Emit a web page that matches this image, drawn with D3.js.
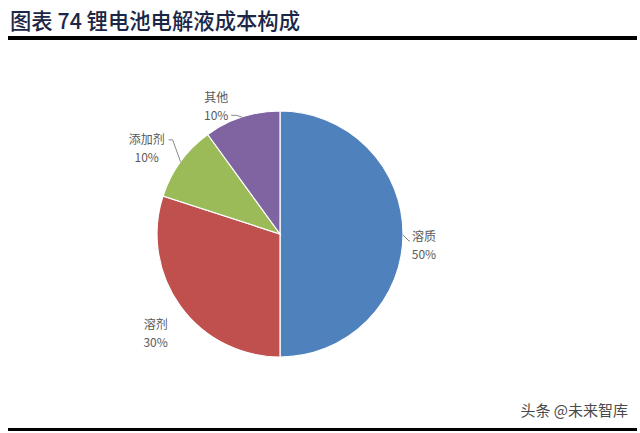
<!DOCTYPE html>
<html><head><meta charset="utf-8">
<script src="https://cdn.jsdelivr.net/npm/d3@7/dist/d3.min.js"></script>
<style>
html,body{margin:0;padding:0;background:#fff;}
svg{display:block;}
</style></head>
<body>
<svg id="c" width="640" height="433"></svg>
<script>
const categories = ["溶质", "溶剂", "添加剂", "其他"];
const values = [50, 30, 10, 10];
const percentLabels = ["50%", "30%", "10%", "10%"];
const colors = ["#4F81BD", "#C0504D", "#9BBB59", "#8064A2"];
const titleText = "图表 74 锂电池电解液成本构成";
const sourceText = "头条 @未来智库";
// label layout: radius factor, offsets; leader flag
const labelLayout = [
  {r: 1.17, dx: 0, dy: 12, leader: true},
  {r: 1.28, dx: 3, dy: 7, leader: false},
  {r: 1.33, dx: -1, dy: 11, leader: true},
  {r: 1.10, dx: -22, dy: 2, leader: true}
];

const svg = d3.select("#c");
const cx = 280, cy = 234, R = 123;

svg.append("text").attr("x", 10).attr("y", 29)
  .attr("font-family", "'Noto Sans CJK SC', sans-serif")
  .attr("font-size", 22).attr("font-weight", 500)
  .attr("textLength", 290).attr("lengthAdjust", "spacingAndGlyphs")
  .attr("fill", "#1C2747").text(titleText);
svg.append("rect").attr("x", 8).attr("y", 36).attr("width", 629).attr("height", 4).attr("fill", "#000");
svg.append("rect").attr("x", 8).attr("y", 428).attr("width", 629).attr("height", 3).attr("fill", "#000");
svg.append("text").attr("x", 628).attr("y", 416).attr("text-anchor", "end")
  .attr("font-family", "'Noto Sans CJK SC', sans-serif")
  .attr("font-size", 15).attr("fill", "#4a4a4a").text(sourceText);

const pie = d3.pie().sort(null).value(d => d)(values);
const arc = d3.arc().innerRadius(0).outerRadius(R);
const g = svg.append("g").attr("transform", `translate(${cx},${cy})`);
g.selectAll("path.s").data(pie).join("path").attr("class", "s")
  .attr("d", arc).attr("fill", (d, i) => colors[i])
  .attr("stroke", "#fff").attr("stroke-width", 1.2);

pie.forEach((d, i) => {
  const L = labelLayout[i];
  const a = (d.startAngle + d.endAngle) / 2;
  const lx = Math.sin(a) * R * L.r + L.dx;
  const ly = -Math.cos(a) * R * L.r + L.dy;
  const lab = g.append("g").attr("font-family", "'Noto Sans CJK SC', sans-serif")
    .attr("font-size", 12).attr("fill", "#595959").attr("text-anchor", "middle");
  lab.append("text").attr("x", lx).attr("y", ly - 5).text(categories[i]);
  lab.append("text").attr("x", lx).attr("y", ly + 13).text(percentLabels[i]);
  if (L.leader) {
    const ex = Math.sin(a) * R, ey = -Math.cos(a) * R;
    let pts;
    if (i === 0) pts = [[ex, ey + 1], [ex + 6, ey + 7], [lx - 14, ey + 7]];
    else if (i === 2) pts = [[lx + 22, ly - 9], [lx + 26, ly - 9], [ex, ey]];
    else pts = [[lx + 15, ly + 8], [lx + 20, ly + 8], [ex, ey]];
    g.append("polyline").attr("points", pts.map(p => p.join(",")).join(" "))
      .attr("fill", "none").attr("stroke", "#8a8a8a").attr("stroke-width", 1);
  }
});
</script>
</body></html>
